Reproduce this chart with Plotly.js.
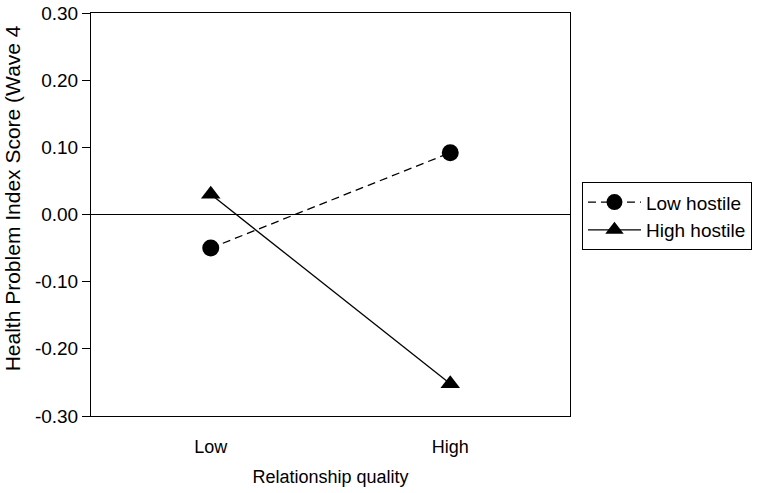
<!DOCTYPE html>
<html>
<head>
<meta charset="utf-8">
<script src="https://cdn.plot.ly/plotly-3.0.1.min.js"></script>
<style>
  body { margin: 0; background: #fff; }
  #chart { width: 762px; height: 493px; }
</style>
</head>
<body>
<div id="chart"></div>
<script>
let quality = [1, 2];
let qualityLabels = ['Low', 'High'];
let lowHostile = [-0.05, 0.092];
let highHostile = [0.03, -0.252];
let yTicks = [-0.30, -0.20, -0.10, 0.00, 0.10, 0.20, 0.30];
let yTickText = ['-0.30', '-0.20', '-0.10', '0.00', '0.10', '0.20', '0.30'];

let fontFam = 'Liberation Sans, Arial, sans-serif';

let traces = [
  {
    x: quality,
    y: lowHostile,
    name: 'Low hostile',
    type: 'scatter',
    mode: 'lines+markers',
    line: { color: 'black', width: 1.3, dash: '8px,5px' },
    marker: { symbol: 'circle', size: 17, color: 'black' }
  },
  {
    x: quality,
    y: highHostile,
    name: 'High hostile',
    type: 'scatter',
    mode: 'lines+markers',
    line: { color: 'black', width: 1.3 },
    marker: { symbol: 'triangle-up', size: 17, color: 'black' }
  }
];

let layout = {
  width: 762,
  height: 493,
  margin: { l: 91, r: 192, t: 13, b: 77, autoexpand: false },
  paper_bgcolor: 'white',
  plot_bgcolor: 'white',
  font: { family: fontFam, size: 18, color: 'black' },
  showlegend: true,
  legend: {
    x: 1.025, y: 0.58, xanchor: 'left', yanchor: 'top',
    bordercolor: 'black', borderwidth: 1,
    font: { size: 19 },
    tracegroupgap: 0,
    itemwidth: 53
  },
  xaxis: {
    range: [0.5, 2.5],
    tickvals: quality,
    ticktext: qualityLabels,
    tickfont: { size: 18 },
    ticks: '',
    showgrid: false,
    zeroline: false,
    showline: true,
    mirror: true,
    linecolor: 'black',
    linewidth: 1,
    ticklabelstandoff: 14,
    title: { text: 'Relationship quality', font: { size: 18 }, standoff: 14 }
  },
  yaxis: {
    range: [-0.30, 0.30],
    tickvals: yTicks,
    ticktext: yTickText,
    tickfont: { size: 19 },
    ticks: 'outside',
    ticklen: 8,
    tickcolor: 'black',
    showgrid: false,
    zeroline: true,
    zerolinecolor: 'black',
    zerolinewidth: 1,
    showline: true,
    mirror: true,
    linecolor: 'black',
    linewidth: 1
  },
  annotations: [{
    text: 'Health Problem Index Score (Wave 4',
    xref: 'paper', yref: 'paper',
    x: -0.165, y: 0.54,
    xanchor: 'center', yanchor: 'middle',
    textangle: -90,
    showarrow: false,
    font: { size: 21 }
  }]
};

Plotly.newPlot('chart', traces, layout, { displayModeBar: false });
</script>
</body>
</html>
